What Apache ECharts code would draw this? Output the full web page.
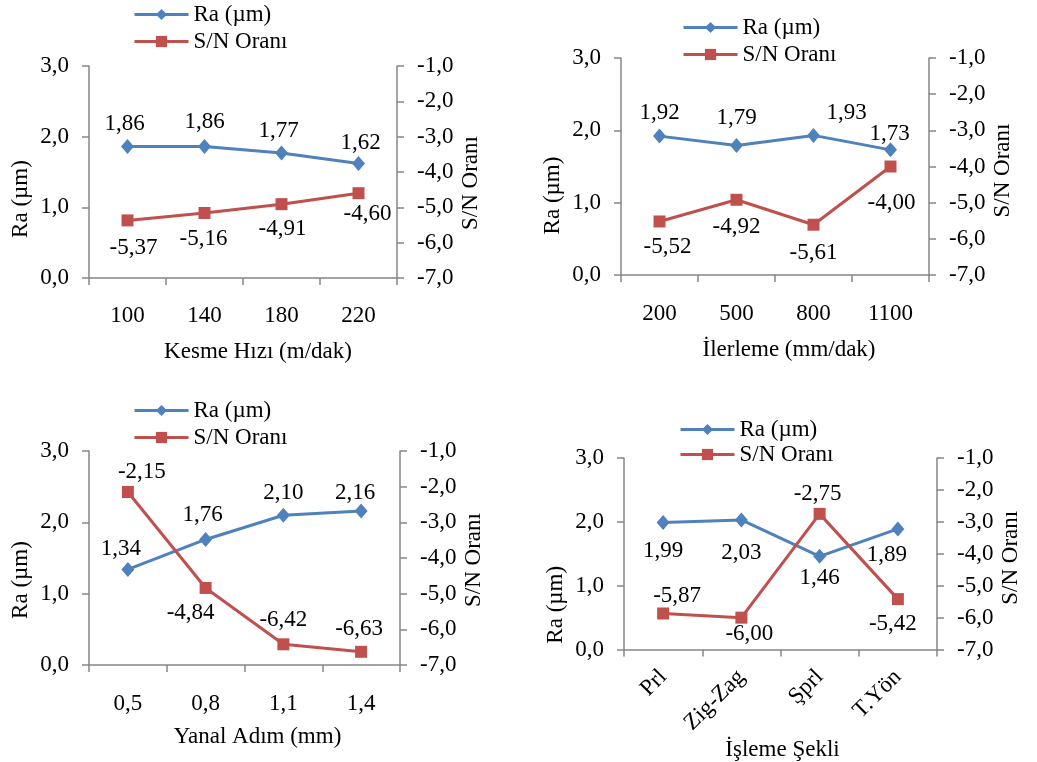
<!DOCTYPE html>
<html>
<head>
<meta charset="utf-8">
<script src="https://cdn.jsdelivr.net/npm/echarts@6/dist/echarts.min.js"></script>
</head>
<body style="margin:0;background:#fff">
<div id="main" style="width:1037px;height:762px"></div>
<script>
var raName = 'Ra (µm)';
var snName = 'S/N Oranı';

// left axis (Ra) and right axis (S/N) ranges
var raMin = 0, raMax = 3, raStep = 1;
var snMin = -7, snMax = -1, snStep = 1;

var cat1 = ['100', '140', '180', '220'];
var ra1 = [1.86, 1.86, 1.77, 1.62];
var sn1 = [-5.37, -5.16, -4.91, -4.60];

var cat2 = ['200', '500', '800', '1100'];
var ra2 = [1.92, 1.79, 1.93, 1.73];
var sn2 = [-5.52, -4.92, -5.61, -4.00];

var cat3 = ['0,5', '0,8', '1,1', '1,4'];
var ra3 = [1.34, 1.76, 2.10, 2.16];
var sn3 = [-2.15, -4.84, -6.42, -6.63];

var cat4 = ['Prl', 'Zig-Zag', 'Şprl', 'T.Yön'];
var ra4 = [1.99, 2.03, 1.46, 1.89];
var sn4 = [-5.87, -6.00, -2.75, -5.42];

var FONT = 'Liberation Serif';
var FS = 23;
var AXIS_GRAY = '#868686';
var BLUE = '#4F81BD';
var RED = '#C0504D';

// layout of the four panels
var panels = [
  {cats: cat1, ra: ra1, sn: sn1, xname: 'Kesme Hızı (m/dak)',
   grid: {left: 89, top: 66, width: 308, height: 212}, legend: {left: 133, top: 3},
   xGap: 62, xPad: 30, lPad: 54, rPad: 22, rotate: 0, labMargin: 26,
   raOff: [[-3, -23], [0, -25], [-3, -22], [2, -21]],
   snOff: [[6, 28], [-1, 26], [1, 25], [9, 21]]},
  {cats: cat2, ra: ra2, sn: sn2, xname: 'İlerleme (mm/dak)',
   grid: {left: 621, top: 58, width: 308, height: 217}, legend: {left: 682, top: 16},
   xGap: 63, xPad: 28, lPad: 58, rPad: 8, rotate: 0, labMargin: 27,
   raOff: [[0, -23], [0, -28], [33, -22], [-1, -16]],
   snOff: [[8, 25], [0, 27], [0, 28], [1, 36]]},
  {cats: cat3, ra: ra3, sn: sn3, xname: 'Yanal Adım (mm)',
   grid: {left: 89, top: 451, width: 311, height: 214}, legend: {left: 133, top: 399},
   xGap: 60, xPad: 26, lPad: 44, rPad: 4, rotate: 0, labMargin: 27,
   raOff: [[-7, -20], [-3, -25], [0, -22], [-6, -18]],
   snOff: [[14, -20], [-15, 25], [0, -24], [-2, -23]]},
  {cats: cat4, ra: ra4, sn: sn4, xname: 'İşleme Şekli',
   grid: {left: 624, top: 458, width: 313, height: 197}, legend: {left: 679, top: 418},
   xGap: 76, xPad: 4, lPad: 102, rPad: 8, rotate: 45, labMargin: 24,
   raOff: [[0, 28], [0, 33], [0, 22], [-11, 26]],
   snOff: [[14, -18], [8, 16], [-2, -20], [-5, 25]]}
];

function comma(v, d) {
  return v.toFixed(d).replace('.', ',');
}

var txt = {fontFamily: FONT, fontSize: FS, color: '#000'};
var grids = [], xAxes = [], yAxes = [], series = [], legends = [];

panels.forEach(function (p, i) {
  grids.push(p.grid);
  legends.push({
    left: p.legend.left, top: p.legend.top, orient: 'vertical',
    itemWidth: 54, itemHeight: 14, itemGap: i === 3 ? 2 : 4, padding: 0,
    data: [raName, snName], textStyle: txt,
    lineStyle: {width: 3}
  });
  xAxes.push({
    type: 'category', gridIndex: i, data: p.cats,
    name: p.xname, nameLocation: 'middle', nameGap: p.xGap,
    nameTextStyle: {fontFamily: FONT, fontSize: FS, color: '#000', padding: [0, 0, 0, p.xPad]},
    axisLine: {lineStyle: {color: AXIS_GRAY, width: 1.5}},
    axisTick: {show: true, length: 7, lineStyle: {color: AXIS_GRAY, width: 1.5}},
    axisLabel: {fontFamily: FONT, fontSize: FS, color: '#000', margin: p.labMargin, rotate: p.rotate, interval: 0},
    splitLine: {show: false}
  });
  var yBase = {
    type: 'value', gridIndex: i, nameLocation: 'middle', nameRotate: 90,
    axisLine: {show: true, lineStyle: {color: AXIS_GRAY, width: 1.5}},
    axisTick: {show: true, length: 7, lineStyle: {color: AXIS_GRAY, width: 1.5}},
    splitLine: {show: false}
  };
  yAxes.push(Object.assign({}, yBase, {
    position: 'left', min: raMin, max: raMax, interval: raStep,
    name: raName, nameGap: 57,
    nameTextStyle: {fontFamily: FONT, fontSize: FS, color: '#000', padding: [0, p.lPad, 0, 0]},
    axisLabel: {fontFamily: FONT, fontSize: FS, color: '#000', margin: 20,
      formatter: function (v) { return comma(v, 1); }}
  }));
  yAxes.push(Object.assign({}, yBase, {
    position: 'right', min: snMin, max: snMax, interval: snStep,
    name: snName, nameGap: 62,
    nameTextStyle: {fontFamily: FONT, fontSize: FS, color: '#000', padding: [0, p.rPad, 0, 0]},
    axisLabel: {fontFamily: FONT, fontSize: FS, color: '#000', margin: 20,
      formatter: function (v) { return comma(v, 1); }}
  }));

  function pts(vals, offs) {
    return vals.map(function (v, k) {
      return {value: v, label: {offset: offs[k]}};
    });
  }
  var lab = {show: true, position: 'inside', fontFamily: FONT, fontSize: FS, color: '#000',
    formatter: function (d) { return comma(d.value, 2); }};

  series.push({
    name: raName, type: 'line', xAxisIndex: i, yAxisIndex: 2 * i,
    data: pts(p.ra, p.raOff), symbol: 'diamond', symbolSize: [13, 15],
    lineStyle: {color: BLUE, width: 3}, itemStyle: {color: BLUE},
    label: lab, animation: false
  });
  series.push({
    name: snName, type: 'line', xAxisIndex: i, yAxisIndex: 2 * i + 1,
    data: pts(p.sn, p.snOff), symbol: 'rect', symbolSize: 12,
    lineStyle: {color: RED, width: 3}, itemStyle: {color: RED},
    label: lab, animation: false
  });
});

var chart = echarts.init(document.getElementById('main'));
chart.setOption({
  animation: false,
  grid: grids,
  legend: legends,
  xAxis: xAxes,
  yAxis: yAxes,
  series: series
});
</script>
</body>
</html>
